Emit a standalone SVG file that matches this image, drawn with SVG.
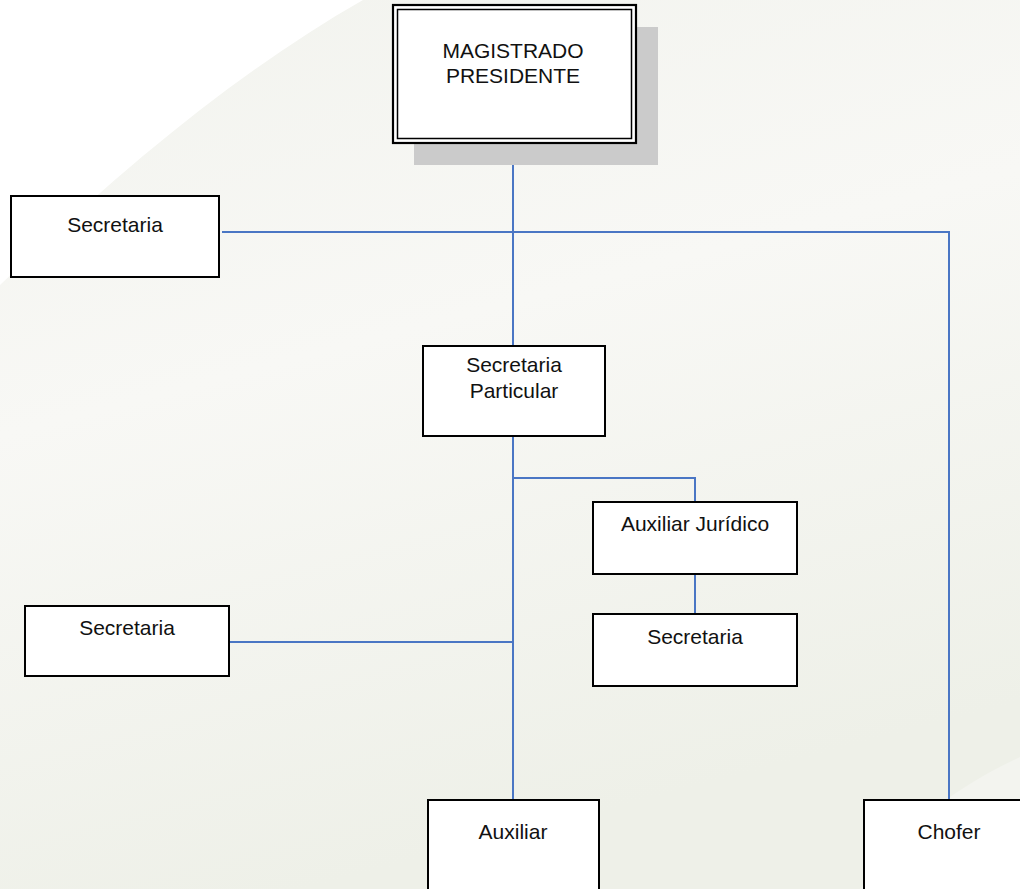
<svg xmlns="http://www.w3.org/2000/svg" width="1020" height="889" viewBox="0 0 1020 889">
<defs>
<linearGradient id="bg" x1="0" y1="0" x2="0.3" y2="1">
<stop offset="0" stop-color="#f2f3ee"/>
<stop offset="0.45" stop-color="#f8f8f5"/>
<stop offset="1" stop-color="#eef0e8"/>
</linearGradient>
<style>
.box{fill:#ffffff;stroke:#000000;stroke-width:2}
.lbl{font-family:"Liberation Sans",Arial,sans-serif;font-size:21px;fill:#111111;text-anchor:middle}
.conn{fill:none;stroke:#4a76c4;stroke-width:2}
</style>
</defs>
<rect x="0" y="0" width="1020" height="889" fill="url(#bg)"/>
<path d="M0,0 L363,0 C240,70 120,170 0,285 Z" fill="#ffffff"/>
<path d="M1020,757 C950,790 900,830 860,889 L1020,889 Z" fill="#f3f4ef"/>

<g id="connectors">
<path class="conn" d="M513,143 V346"/>
<path class="conn" d="M222,232 H949 V800"/>
<path class="conn" d="M513,436 V800"/>
<path class="conn" d="M513,478 H695 V502"/>
<path class="conn" d="M695,574 V614"/>
<path class="conn" d="M229,642 H513"/>
</g>

<g id="magistrado">
<rect x="414" y="27" width="244" height="138" fill="#cbcbcb"/>
<rect x="393" y="5" width="243" height="138" fill="#ffffff" stroke="#000" stroke-width="2.2"/>
<rect x="397.5" y="9.5" width="234" height="129" fill="none" stroke="#000" stroke-width="1.5"/>
<text class="lbl" x="513" y="58">MAGISTRADO</text>
<text class="lbl" x="513" y="83">PRESIDENTE</text>
</g>

<g id="secretaria-top">
<rect class="box" x="11" y="196" width="208" height="81"/>
<text class="lbl" x="115" y="232">Secretaria</text>
</g>

<g id="secretaria-particular">
<rect class="box" x="423" y="346" width="182" height="90"/>
<text class="lbl" x="514" y="372">Secretaria</text>
<text class="lbl" x="514" y="398">Particular</text>
</g>

<g id="auxiliar-juridico">
<rect class="box" x="593" y="502" width="204" height="72"/>
<text class="lbl" x="695" y="531">Auxiliar Jurídico</text>
</g>

<g id="secretaria-juridico">
<rect class="box" x="593" y="614" width="204" height="72"/>
<text class="lbl" x="695" y="644">Secretaria</text>
</g>

<g id="secretaria-left">
<rect class="box" x="25" y="606" width="204" height="70"/>
<text class="lbl" x="127" y="635">Secretaria</text>
</g>

<g id="auxiliar">
<rect class="box" x="428" y="800" width="171" height="100"/>
<text class="lbl" x="513" y="839">Auxiliar</text>
</g>

<g id="chofer">
<rect class="box" x="864" y="800" width="170" height="100"/>
<text class="lbl" x="949" y="839">Chofer</text>
</g>
</svg>
